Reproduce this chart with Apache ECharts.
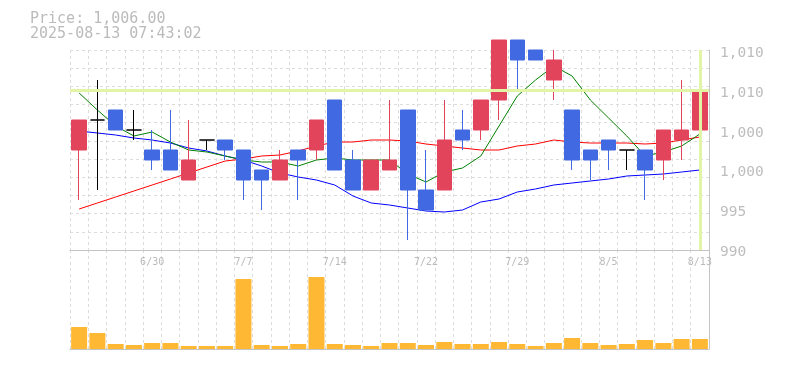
<!DOCTYPE html>
<html><head><meta charset="utf-8">
<style>html,body{margin:0;padding:0;background:#fff}#c{width:785px;height:370px}</style>
<script src="https://cdn.jsdelivr.net/npm/echarts@6.0.0/dist/echarts.min.js"></script>
</head><body><div id="c"></div>
<script>
const headerPrice = "Price: 1,006.00";
const headerTime = "2025-08-13 07:43:02";
const dates = ["6/24","6/25","6/26","6/27","6/30","7/1","7/2","7/3","7/4","7/7","7/8","7/9","7/10","7/11","7/14","7/15","7/16","7/17","7/18","7/22","7/23","7/24","7/25","7/28","7/29","7/30","7/31","8/1","8/4","8/5","8/6","8/7","8/8","8/12","8/13"];
const tickLabels = ["6/30","7/7","7/14","7/22","7/29","8/5","8/13"];
const priceLabels = ["990","995","1,000","1,000","1,010","1,010"];
const opens  = [1000,1003,1004,1002,1000,1000,997,1001,1001,1000,998,997,1000,1000,1005,999,996,998,1004,996,996,1002,1002,1005,1011,1010,1007,1004,1000,1001,1000,1000,999,1001,1002];
const closes = [1003,1003,1002,1002,999,998,999,1001,1000,997,997,999,999,1003,998,996,999,999,996,994,1001,1001,1005,1011,1009,1009,1009,999,999,1000,1000,998,1002,1002,1006];
const lows   = [995,996,1002,1001,998,998,997,1000,999,995,994,997,995,999,998,996,996,998,991,994,996,1000,1001,1003,1006,1009,1005,998,997,998,998,995,997,999,1002];
const highs  = [1003,1007,1004,1004,1002,1004,1003,1001,1001,1000,998,1000,1000,1003,1005,1000,999,1005,1004,1000,1005,1004,1005,1011,1011,1010,1010,1004,1000,1001,1000,1000,1002,1007,1009];
const ma5  = [1005.7,1004.0,1002.4,1001.4,1001.8,1000.8,1000.0,999.8,999.4,999.0,998.8,998.8,998.4,999.0,999.2,999.0,999.0,999.0,997.6,996.8,997.8,998.2,999.4,1002.4,1005.4,1007.0,1008.4,1007.4,1005.0,1003.2,1001.4,999.4,999.8,1000.4,1001.6];
const ma25 = [994.1,994.7,995.3,995.9,996.5,997.1,997.7,998.3,998.9,999.1,999.4,999.5,999.9,1000.4,1000.8,1000.8,1001.0,1001.0,1000.9,1000.6,1000.4,1000.2,1000.0,1000.0,1000.4,1000.6,1001.0,1000.8,1000.7,1000.7,1000.7,1000.6,1000.7,1001.0,1001.3];
const ma75 = [1001.9,1001.7,1001.5,1001.2,1001.0,1000.7,1000.2,999.9,999.4,999.0,998.4,997.7,997.3,997.0,996.5,995.4,994.7,994.5,994.2,993.9,993.8,994.0,994.8,995.1,995.8,996.1,996.5,996.7,996.9,997.1,997.4,997.5,997.6,997.8,998.0];
const volumes = [2200,1600,500,400,600,600,300,300,300,7000,400,300,500,7200,500,400,300,600,600,400,700,500,500,700,500,300,600,1100,600,400,500,900,600,1000,1000];
const currentPrice = 1006;

const candleData = dates.map((d, i) => [opens[i], closes[i], lows[i], highs[i]]);
const chart = echarts.init(document.getElementById('c'), null, {renderer: 'canvas'});
const mono = 'DejaVu Sans Mono';
const gridDash = {color: '#dcdcdc', type: [3, 3], width: 1};
const borderLine = {show: true, lineStyle: {color: '#c4c4c4', width: 1}};
chart.setOption({
  animation: false,
  title: {text: headerPrice + '\n' + headerTime, left: 30, top: 12, padding: 0,
    textStyle: {fontFamily: mono, fontSize: 15, fontWeight: 'normal', color: '#bbbbbb', lineHeight: 15}},
  grid: [
    {left: 70, right: 76, top: 50, bottom: 120},
    {left: 70, right: 76, top: 250, bottom: 21},
    {left: 70, right: 76, top: 53, bottom: 117.5}
  ],
  xAxis: [
    {type: 'category', gridIndex: 0, data: dates, boundaryGap: true, axisLine: borderLine, axisTick: {show: false},
      axisLabel: {interval: (i, v) => tickLabels.includes(v), fontFamily: mono, fontSize: 10, color: '#bbbbbb', margin: 7},
      splitLine: {show: true, interval: 0, lineStyle: gridDash}},
    {type: 'category', gridIndex: 1, data: dates, boundaryGap: true, axisLine: borderLine, axisTick: {show: false},
      axisLabel: {show: false}, splitLine: {show: true, interval: 0, lineStyle: gridDash}},
    {type: 'value', gridIndex: 2, show: false}
  ],
  yAxis: [
    {type: 'value', gridIndex: 0, min: 990, max: 1010, show: false, splitLine: {show: false}},
    {type: 'value', gridIndex: 0, min: 0, max: 11, interval: 1, position: 'right', axisLine: borderLine,
      axisTick: {show: false}, axisLabel: {show: false}, splitLine: {show: true, lineStyle: gridDash}},
    {type: 'value', gridIndex: 1, min: 0, max: 9900, position: 'right', axisLine: borderLine,
      axisTick: {show: false}, axisLabel: {show: false}, splitLine: {show: false}},
    {type: 'value', gridIndex: 2, min: 0, max: 5, interval: 1, position: 'right', axisLine: {show: false},
      axisTick: {show: false}, splitLine: {show: false},
      axisLabel: {formatter: v => priceLabels[v], fontFamily: mono, fontSize: 14.5, color: '#bdbdbd', margin: 11}}
  ],
  series: [
    {type: 'line', xAxisIndex: 0, yAxisIndex: 0, data: [], z: 1, silent: true,
      markLine: {symbol: 'none', silent: true, animation: false, label: {show: false},
        lineStyle: {color: '#e2f4a6', width: 3, type: 'solid'},
        data: [{yAxis: currentPrice}, {xAxis: dates[dates.length - 1]}]}},
    {type: 'line', xAxisIndex: 0, yAxisIndex: 0, data: ma75, symbol: 'none', z: 2, silent: true, clip: false,
      lineStyle: {color: '#0000ff', width: 1}},
    {type: 'line', xAxisIndex: 0, yAxisIndex: 0, data: ma25, symbol: 'none', z: 2, silent: true, clip: false,
      lineStyle: {color: '#ff0000', width: 1}},
    {type: 'line', xAxisIndex: 0, yAxisIndex: 0, data: ma5, symbol: 'none', z: 2, silent: true, clip: false,
      lineStyle: {color: '#008000', width: 1}},
    {type: 'candlestick', xAxisIndex: 0, yAxisIndex: 0, data: candleData, barWidth: 15, clip: false, z: 3,
      itemStyle: {color: '#e2445c', color0: '#4169e1', borderColor: '#e2445c', borderColor0: '#4169e1',
        borderColorDoji: '#000000', borderWidth: 1}},
    {type: 'bar', xAxisIndex: 1, yAxisIndex: 2, data: volumes, barWidth: 16, itemStyle: {color: '#ffb833'}}
  ]
});
</script>
</body></html>
